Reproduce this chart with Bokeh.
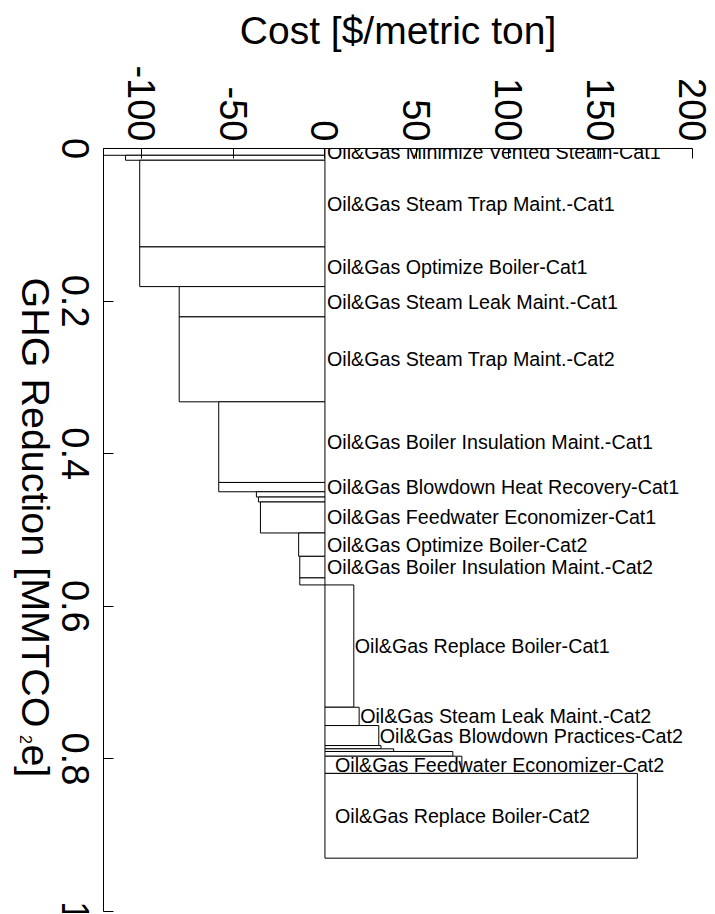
import math
import numpy as np
from bokeh.plotting import figure
from bokeh.layouts import row
from bokeh.models import Range1d, FixedTicker, ColumnDataSource, LabelSet
from bokeh.core.properties import value
from bokeh.embed import file_html
from bokeh.resources import INLINE

# ---- data ----
measures = [
    "Oil&Gas Minimize Vented Steam-Cat1",
    "",
    "Oil&Gas Steam Trap Maint.-Cat1",
    "Oil&Gas Optimize Boiler-Cat1",
    "Oil&Gas Steam Leak Maint.-Cat1",
    "Oil&Gas Steam Trap Maint.-Cat2",
    "Oil&Gas Boiler Insulation Maint.-Cat1",
    "Oil&Gas Blowdown Heat Recovery-Cat1",
    "",
    "",
    "Oil&Gas Feedwater Economizer-Cat1",
    "Oil&Gas Optimize Boiler-Cat2",
    "Oil&Gas Boiler Insulation Maint.-Cat2",
    "",
    "Oil&Gas Replace Boiler-Cat1",
    "Oil&Gas Steam Leak Maint.-Cat2",
    "Oil&Gas Blowdown Practices-Cat2",
    "",
    "",
    "",
    "Oil&Gas Feedwater Economizer-Cat2",
    "Oil&Gas Replace Boiler-Cat2",
]
costs = [-120.5, -108.5, -100.8, -100.8, -79.3, -79.3, -57.8, -57.8, -37.3, -36.2,
         -35.1, -14.3, -13.7, -13.7, 15.7, 18.6, 29.3, 30.5, 37.4, 69.6, 74.5, 170.0]
reductions = [0.0089, 0.0065, 0.1136, 0.0520, 0.0397, 0.1113, 0.1057, 0.0122, 0.0069,
              0.0065, 0.0406, 0.0306, 0.0283, 0.0092, 0.1603, 0.0240, 0.0262, 0.0043,
              0.0035, 0.0062, 0.0225, 0.1111]

x_ticks = [-100, -50, 0, 50, 100, 150, 200]
x_tick_labels = ["-100", "-50", "0", "50", "100", "150", "200"]
y_ticks = [0, 0.2, 0.4, 0.6, 0.8, 1.0]
y_tick_labels = ["0", "0.2", "0.4", "0.6", "0.8", "1"]

x_title = "Cost [$/metric ton]"
y_title_parts = ["GHG Reduction [MMTCO", "2", "e]"]

FONT = "Liberation Sans"

# ---- layout constants (pixels) ----
H = 913            # canvas height
FRAME_TOP = 148    # y = 0
FRAME_BOT = 911    # y = 1
LEFT_W = 98        # width of the left strip (y title + y tick labels)
PX_PER_Y = FRAME_BOT - FRAME_TOP

# ---- derived geometry ----
c = np.array(costs)
r = np.array(reductions)
end = np.cumsum(r)
start = end - r
wide = c > 60
src = ColumnDataSource(dict(
    left=np.minimum(c, 0), right=np.maximum(c, 0),
    top=start, bottom=end, mid=(start + end) / 2,
    lx=np.where(wide, 0, np.maximum(c, 0)),
    lxo=np.where(wide, 10, np.where(c > 0, 1, 2)),
    name=measures,
))

# ---- main plot ----
p = figure(width=713 - LEFT_W, height=H, output_backend="svg", toolbar_location=None,
           x_range=Range1d(-120.5, 200), y_range=Range1d(1, 0),
           x_axis_location="above",
           min_border_left=5, min_border_right=21, min_border_top=FRAME_TOP,
           min_border_bottom=H - FRAME_BOT)
p.outline_line_color = None
p.grid.visible = False

p.quad(left="left", right="right", top="top", bottom="bottom", source=src,
       fill_color="white", line_color="black", line_width=1)

labels = LabelSet(x="lx", y="mid", text="name", x_offset="lxo", source=src,
                  text_align="left", text_baseline="middle",
                  text_font=value(FONT), text_font_size=value("19.7px"), text_color="black")
p.add_layout(labels)

for ax in (p.xaxis[0], p.yaxis[0]):
    ax.axis_line_color = "black"
    ax.axis_line_width = 1
    ax.major_tick_line_color = "black"
    ax.major_tick_in = 10
    ax.major_tick_out = 0
    ax.minor_tick_line_color = None
    ax.major_label_text_font = FONT
    ax.major_label_text_font_size = "38px"
    ax.major_label_text_color = "black"
    ax.major_label_orientation = -math.pi / 2

p.xaxis.ticker = FixedTicker(ticks=x_ticks)
p.xaxis.major_label_overrides = dict(zip(x_ticks, x_tick_labels))
p.xaxis.major_label_standoff = 7
p.xaxis.axis_label = x_title
p.xaxis.axis_label_text_font = FONT
p.xaxis.axis_label_text_font_size = "39px"
p.xaxis.axis_label_text_font_style = "normal"
p.xaxis.axis_label_text_color = "black"
p.xaxis.axis_label_standoff = 10

p.yaxis.ticker = FixedTicker(ticks=y_ticks)
p.yaxis.major_label_overrides = {t: "" for t in y_ticks}
p.yaxis.major_label_standoff = 0
p.yaxis.axis_label = None

# ---- left strip (full-canvas frame, same y scale as the main plot) ----
pl = figure(width=LEFT_W, height=H, output_backend="svg", toolbar_location=None,
            x_range=Range1d(0, LEFT_W),
            y_range=Range1d((H - FRAME_TOP) / PX_PER_Y, -FRAME_TOP / PX_PER_Y),
            x_axis_location=None, y_axis_location=None,
            min_border=0, min_border_left=0, min_border_right=0,
            min_border_top=0, min_border_bottom=0)
pl.frame_align = False
pl.outline_line_color = None
pl.grid.visible = False

# y tick labels, centred on the main plot's ticks
pl.text(x=[75] * len(y_ticks), y=y_ticks, text=y_tick_labels,
        angle=-math.pi / 2, text_align="center", text_baseline="middle",
        text_font=value(FONT), text_font_size=value("38px"), text_color="black")

# rotated y title with subscript
title_src = ColumnDataSource(dict(
    x=[35, 25, 35],
    y=[0.169, 0.7746, 0.781],
    text=y_title_parts,
    align=["left", "center", "left"],
    size=["39.5px", "16px", "39.5px"],
))
pl.text(x="x", y="y", text="text", source=title_src,
        angle=-math.pi / 2, text_align="align", text_baseline="middle",
        text_font=value(FONT), text_font_size="size", text_color="black")

layout = row(pl, p, spacing=0)
open("out.html", "w").write(file_html(layout, INLINE))
